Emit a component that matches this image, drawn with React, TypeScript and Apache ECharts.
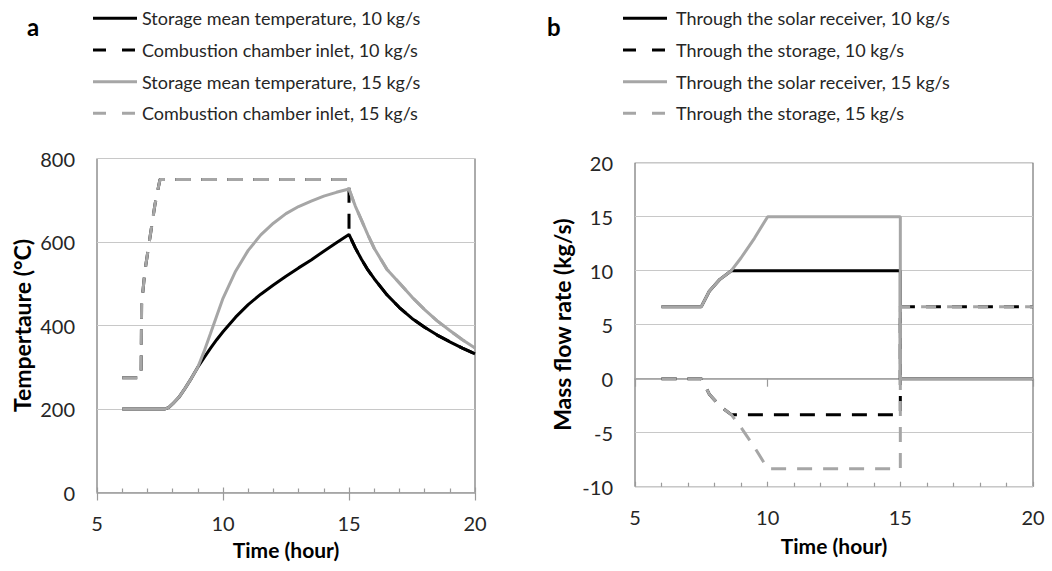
import React, { useEffect, useRef } from "react";
import * as echarts from "echarts";

// ---- Panel a: temperatures (°C) vs time (hour)
const storageMean10: number[][] = [
  [6, 200], [7.7, 200], [7.85, 204], [8, 212], [8.25, 228], [8.5, 250], [8.75, 274], [9, 300],
  [9.25, 323], [9.5, 345], [9.75, 366], [10, 385], [10.5, 420], [11, 450], [11.5, 475], [12, 497],
  [12.5, 518], [13, 538], [13.5, 557], [14, 578], [14.5, 598], [15, 618],
  [15.25, 586], [15.5, 558], [15.75, 533], [16, 512], [16.5, 474], [17, 443], [17.5, 417],
  [18, 396], [18.5, 377], [19, 361], [19.5, 346], [20, 332],
];
const storageMean15: number[][] = [
  [6, 200], [7.7, 200], [7.85, 204], [8, 212], [8.25, 228], [8.5, 250], [8.75, 274], [9, 300],
  [9.25, 338], [9.5, 380], [9.75, 423], [10, 465], [10.5, 530], [11, 580], [11.5, 617], [12, 645],
  [12.5, 668], [13, 685], [13.5, 698], [14, 710], [14.5, 719], [15, 727],
  [15.25, 686], [15.5, 652], [15.75, 617], [16, 585], [16.5, 535], [17, 502], [17.5, 468],
  [18, 438], [18.5, 411], [19, 388], [19.5, 366], [20, 346],
];
const combustionInlet10: number[][] = [
  [6, 275], [6.75, 275], [6.77, 450], [6.9, 530], [7.1, 610], [7.3, 690], [7.5, 750], [15, 750],
  [15, 618], [15.25, 586], [15.5, 558], [15.75, 533], [16, 512], [16.5, 474], [17, 443], [17.5, 417],
  [18, 396], [18.5, 377], [19, 361], [19.5, 346], [20, 332],
];
const combustionInlet15: number[][] = [
  [6, 275], [6.75, 275], [6.77, 450], [6.9, 530], [7.1, 610], [7.3, 690], [7.5, 750], [15, 750],
  [15, 727], [15.25, 686], [15.5, 652], [15.75, 617], [16, 585], [16.5, 535], [17, 502], [17.5, 468],
  [18, 438], [18.5, 411], [19, 388], [19.5, 366], [20, 346],
];

// ---- Panel b: mass flow rate (kg/s) vs time (hour)
const receiver10: number[][] = [
  [6, 6.67], [7.5, 6.67], [7.8, 8.1], [8.2, 9.2], [8.63, 10], [15, 10], [15, 0], [20, 0],
];
const storage10: number[][] = [
  [6, 0], [7.5, 0], [7.8, -1.43], [8.2, -2.53], [8.63, -3.33], [15, -3.33], [15, 6.67], [20, 6.67],
];
const receiver15: number[][] = [
  [6, 6.67], [7.5, 6.67], [7.8, 8.1], [8.2, 9.2], [8.63, 10], [9, 11.2], [9.5, 13], [10, 15],
  [15, 15], [15, 0], [20, 0],
];
const storage15: number[][] = [
  [6, 0], [7.5, 0], [7.8, -1.43], [8.2, -2.53], [8.63, -3.33], [9, -4.53], [9.5, -6.33], [10, -8.33],
  [15, -8.33], [15, 6.67], [20, 6.67],
];

const namesA = [
  "Storage mean temperature, 10 kg/s",
  "Combustion chamber inlet, 10 kg/s",
  "Storage mean temperature, 15 kg/s",
  "Combustion chamber inlet, 15 kg/s",
];
const namesB = [
  "Through the solar receiver, 10 kg/s",
  "Through the storage, 10 kg/s",
  "Through the solar receiver, 15 kg/s",
  "Through the storage, 15 kg/s",
];

const FONT = "Lato, 'Open Sans', sans-serif";
const BLACK = "#000000";
const GRAY = "#a6a6a6";
const DASH = [15, 11];
const styleColors = [BLACK, BLACK, GRAY, GRAY];
const styleDashed = [false, true, false, true];

export default function App() {
  const ref = useRef<HTMLDivElement>(null);
  useEffect(() => {
    if (!ref.current) return;
    const chart = echarts.init(ref.current, undefined, { renderer: "svg" });

    const mainX = (gridIndex: number, nameGap: number) => ({
      type: "value",
      gridIndex,
      min: 5,
      max: 20,
      interval: 5,
      position: "bottom",
      name: "Time (hour)",
      nameLocation: "middle",
      nameGap,
      nameTextStyle: { fontFamily: FONT, fontSize: 21, fontWeight: "bold", color: "#000" },
      axisLine: { show: true, lineStyle: { color: "#9a9a9a", width: 1.5 } },
      axisTick: { show: true, inside: false, length: 8, lineStyle: { color: "#9a9a9a", width: 1.2 } },
      axisLabel: { fontFamily: FONT, fontSize: 20, color: "#262626", margin: 20 },
      splitLine: { show: false },
    });
    const overlayX = (gridIndex: number) => ({
      type: "value",
      gridIndex,
      min: 5,
      max: 20,
      interval: 5,
      position: "bottom",
      axisLine: { show: false },
      axisTick: { show: true, inside: true, length: 5, lineStyle: { color: "#9a9a9a", width: 1.2 } },
      minorTick: { show: true, splitNumber: 5, length: 4, lineStyle: { color: "#9a9a9a", width: 1.2 } },
      axisLabel: { show: false },
      splitLine: { show: false },
    });
    const yAx = (gridIndex: number, min: number, max: number, interval: number, name: string, nameGap: number) => ({
      type: "value",
      gridIndex,
      min,
      max,
      interval,
      name,
      nameLocation: "middle",
      nameGap,
      nameTextStyle: { fontFamily: FONT, fontSize: 23, fontWeight: "bold", color: "#000" },
      axisLine: { show: false },
      axisTick: { show: false },
      axisLabel: { fontFamily: FONT, fontSize: 20, color: "#262626", margin: 22 },
      splitLine: { show: true, lineStyle: { color: "#c8c8c8", width: 1 } },
    });
    const line = (name: string, data: number[][], color: string, dashed: boolean, xi: number, yi: number) => ({
      name,
      type: "line",
      xAxisIndex: xi,
      yAxisIndex: yi,
      data,
      symbol: "none",
      showSymbol: false,
      smooth: false,
      lineStyle: { color, width: 3, type: dashed ? DASH : "solid", cap: "butt" },
      itemStyle: { color },
    });

    const legendRowsY = [18.3, 50, 81.7, 113.3];
    const legendGraphic = (lineX: number, textX: number, names: string[]) =>
      names.flatMap((n, i) => [
        {
          type: "line",
          shape: { x1: lineX, y1: legendRowsY[i], x2: lineX + 44, y2: legendRowsY[i] },
          style: {
            stroke: styleColors[i],
            lineWidth: 3,
            lineDash: styleDashed[i] ? [13, 16] : null,
          },
        },
        {
          type: "text",
          x: textX,
          y: legendRowsY[i],
          style: {
            text: n,
            fontFamily: FONT,
            fontSize: 18,
            fill: "#262626",
            verticalAlign: "middle",
            align: "left",
          },
        },
      ]);

    chart.setOption({
      animation: false,
      backgroundColor: "#ffffff",
      grid: [
        { left: 97, top: 158.5, width: 378, height: 334, show: true, borderColor: "#595959", borderWidth: 1 },
        { left: 635, top: 162.7, width: 398, height: 324, show: true, borderColor: "#595959", borderWidth: 1 },
      ],
      xAxis: [mainX(0, 46), overlayX(0), mainX(1, 48), overlayX(1)],
      yAxis: [
        yAx(0, 0, 800, 200, "Tempertaure (°C)", 64),
        yAx(1, -10, 20, 5, "Mass flow rate (kg/s)", 62),
      ],
      graphic: [
        { type: "text", left: 27, top: 14, style: { text: "a", fontFamily: FONT, fontSize: 24, fontWeight: "bold", fill: "#000" } },
        { type: "text", left: 547, top: 14, style: { text: "b", fontFamily: FONT, fontSize: 24, fontWeight: "bold", fill: "#000" } },
        ...legendGraphic(93, 142, namesA),
        ...legendGraphic(623, 676, namesB),
      ],
      series: [
        line(namesA[0], storageMean10, BLACK, false, 0, 0),
        line(namesA[1], combustionInlet10, BLACK, true, 0, 0),
        line(namesA[2], storageMean15, GRAY, false, 0, 0),
        line(namesA[3], combustionInlet15, GRAY, true, 0, 0),
        line(namesB[0], receiver10, BLACK, false, 2, 1),
        line(namesB[1], storage10, BLACK, true, 2, 1),
        line(namesB[2], receiver15, GRAY, false, 2, 1),
        line(namesB[3], storage15, GRAY, true, 2, 1),
      ],
    });
    return () => chart.dispose();
  }, []);
  return (
    <div
      ref={ref}
      style={{ position: "fixed", left: 0, top: 0, width: 1052, height: 571, background: "#fff" }}
    />
  );
}
